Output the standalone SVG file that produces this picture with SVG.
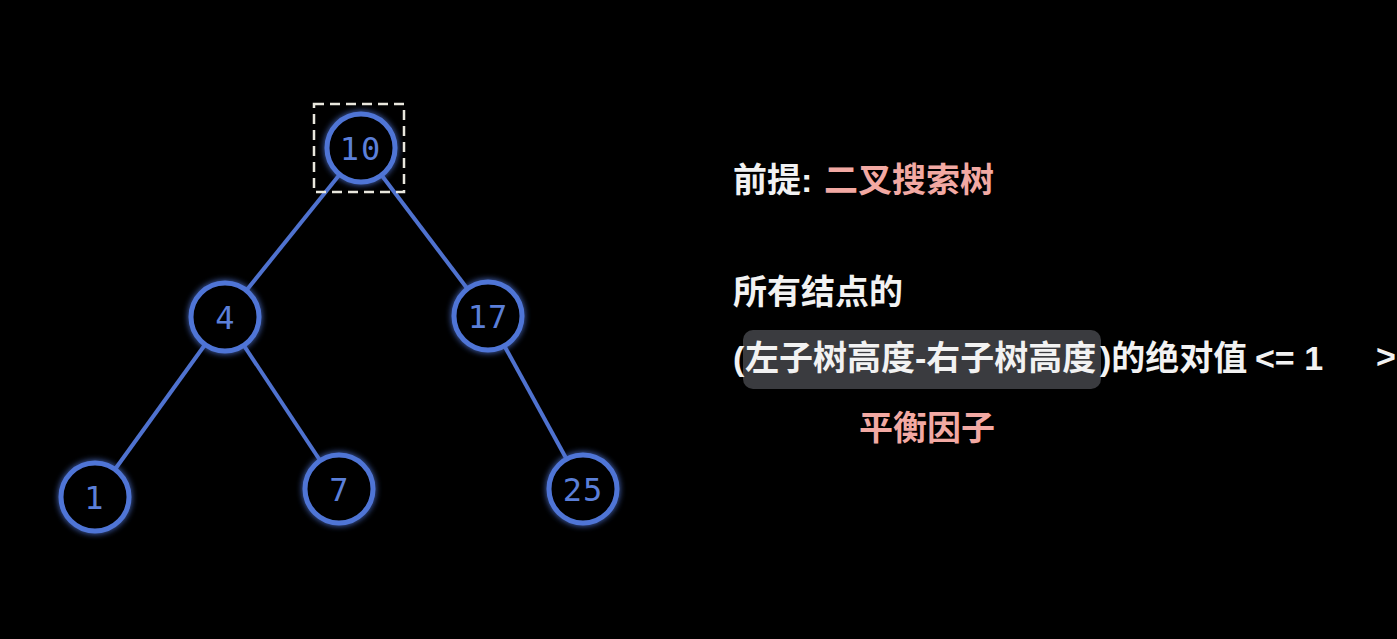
<svg xmlns="http://www.w3.org/2000/svg" width="1397" height="639" viewBox="0 0 1397 639">
  <defs>
    <filter id="glow" x="-50%" y="-50%" width="200%" height="200%">
      <feGaussianBlur in="SourceGraphic" stdDeviation="3" result="b"/>
      <feMerge>
        <feMergeNode in="b"/>
        <feMergeNode in="SourceGraphic"/>
      </feMerge>
    </filter>
  </defs>
  <style>
    .edge { stroke: #4f72cf; stroke-width: 4; fill: none; }
    .node circle { fill: #000; stroke: #5075d6; stroke-width: 5; }
    .node text { font-family: "DejaVu Sans Mono", "Liberation Mono", monospace; font-size: 32px; fill: #5b7fd8; text-anchor: middle; }
    .t { font-family: "Liberation Sans", "Noto Sans CJK SC", sans-serif; font-size: 34px; font-weight: bold; fill: #f2f2f2; }
    .pink { fill: #f2a9a3; }
  </style>
  <rect width="1397" height="639" fill="#000"/>

  <g id="connectors">
    <line class="edge" x1="361" y1="148" x2="225" y2="317"/>
    <line class="edge" x1="361" y1="148" x2="488" y2="316"/>
    <line class="edge" x1="225" y1="317" x2="95" y2="497"/>
    <line class="edge" x1="225" y1="317" x2="339" y2="489"/>
    <line class="edge" x1="488" y1="316" x2="583" y2="489"/>
  </g>

  <g id="node-10" class="node">
    <circle cx="361" cy="148" r="34" filter="url(#glow)"/>
    <text x="361" y="160" letter-spacing="2">10</text>
  </g>
  <g id="selection-box">
    <rect x="314" y="104" width="90" height="88" fill="none" stroke="#e9e7dd" stroke-width="2.5" stroke-dasharray="10 6"/>
  </g>
  <g id="node-4" class="node">
    <circle cx="225" cy="317" r="34" filter="url(#glow)"/>
    <text x="225" y="329">4</text>
  </g>
  <g id="node-17" class="node">
    <circle cx="488" cy="316" r="34" filter="url(#glow)"/>
    <text x="488" y="328" letter-spacing="1">17</text>
  </g>
  <g id="node-1" class="node">
    <circle cx="95" cy="497" r="34" filter="url(#glow)"/>
    <text x="94" y="509">1</text>
  </g>
  <g id="node-7" class="node">
    <circle cx="339" cy="489" r="34" filter="url(#glow)"/>
    <text x="339" y="501">7</text>
  </g>
  <g id="node-25" class="node">
    <circle cx="583" cy="489" r="34" filter="url(#glow)"/>
    <text x="583" y="501" letter-spacing="1">25</text>
  </g>

  <g id="text-premise">
    <text class="t" x="733" y="192">前提: <tspan class="pink" x="824">二叉搜索树</tspan></text>
  </g>
  <g id="text-all-nodes">
    <text class="t" x="733" y="304">所有结点的</text>
  </g>
  <g id="text-formula">
    <rect x="743" y="330" width="358" height="59" rx="10" fill="#3a3b3f"/>
    <text class="t" x="733" y="370">(<tspan x="745">左子树高度-右子树高度</tspan><tspan x="1100">)的绝对值</tspan><tspan x="1255">&lt;= 1</tspan></text>
  </g>
  <g id="text-balance-factor">
    <text class="t pink" x="859" y="440">平衡因子</text>
  </g>
  <text class="t" x="1376" y="368" font-size="20">&gt;</text>
</svg>
